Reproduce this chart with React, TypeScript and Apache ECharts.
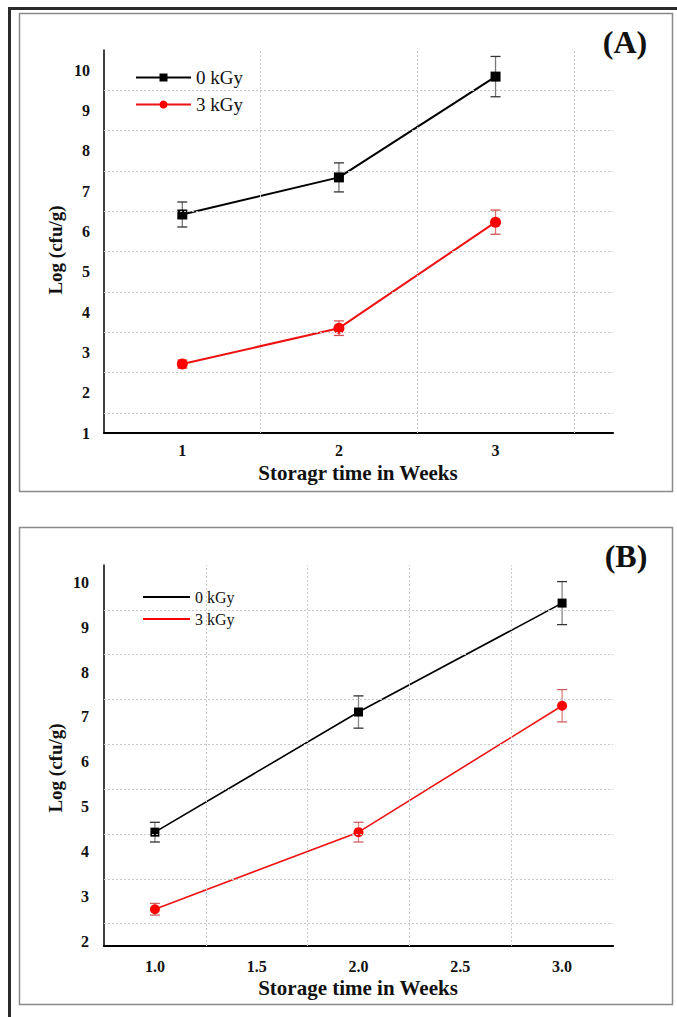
import React, { useEffect, useRef } from "react";
import * as echarts from "echarts";

const weeks = [1, 2, 3];

// Panel A
const a0kGy = [6.42, 7.34, 9.84];
const a0kGyErr = [0.31, 0.36, 0.5];
const a3kGy = [2.71, 3.6, 6.23];
const a3kGyErr = [0.1, 0.18, 0.3];

// Panel B
const b0kGy = [4.54, 7.22, 9.65];
const b0kGyErr = [0.22, 0.36, 0.48];
const b3kGy = [2.82, 4.54, 7.36];
const b3kGyErr = [0.13, 0.22, 0.36];

// Gridline positions
const aGridY = [1.5, 2.5, 3.5, 4.5, 5.5, 6.5, 7.5, 8.5, 9.5];
const aGridX = [1.5, 2.5, 3.5];
const bGridY = [2.5, 3.5, 4.5, 5.5, 6.5, 7.5, 8.5, 9.5];
const bGridX = [1.25, 1.75, 2.25, 2.75];

const SERIF = "'Times New Roman', 'Liberation Serif', serif";
const RED = "#ee1111";

function errData(v: number[], e: number[]) {
  return weeks.map((w, i) => [w, v[i] - e[i], v[i] + e[i]]);
}

function errSeries(gridIdx: number, data: number[][], color: string, capColor: string) {
  return {
    type: "custom",
    xAxisIndex: gridIdx,
    yAxisIndex: gridIdx,
    z: 1,
    silent: true,
    data,
    encode: { x: 0, y: [1, 2] },
    renderItem: (params: any, api: any) => {
      const x = api.value(0);
      const p1 = api.coord([x, api.value(1)]);
      const p2 = api.coord([x, api.value(2)]);
      const w = 5;
      return {
        type: "group",
        children: [
          { type: "line", shape: { x1: p1[0], y1: p1[1], x2: p2[0], y2: p2[1] }, style: { stroke: color, lineWidth: 1.3 } },
          { type: "line", shape: { x1: p1[0] - w, y1: p1[1], x2: p1[0] + w, y2: p1[1] }, style: { stroke: capColor, lineWidth: 1.3 } },
          { type: "line", shape: { x1: p2[0] - w, y1: p2[1], x2: p2[0] + w, y2: p2[1] }, style: { stroke: capColor, lineWidth: 1.3 } },
        ],
      };
    },
  };
}

function gridSeries(gridIdx: number, ys: number[], xs: number[]) {
  return {
    type: "line",
    xAxisIndex: gridIdx,
    yAxisIndex: gridIdx,
    z: 0,
    data: [],
    silent: true,
    markLine: {
      silent: true,
      symbol: ["none", "none"],
      label: { show: false },
      emphasis: { disabled: true },
      lineStyle: { color: "#c9c9c9", type: [2, 2], width: 1 },
      data: [...ys.map((y) => ({ yAxis: y })), ...xs.map((x) => ({ xAxis: x }))],
    },
  };
}

export default function App() {
  const ref = useRef<HTMLDivElement>(null);

  useEffect(() => {
    if (!ref.current) return;
    const chart = echarts.init(ref.current, null, { renderer: "svg" });

    const axisLabelStyle = { fontFamily: SERIF, fontWeight: "bold", fontSize: 16, color: "#111" };

    const legendBase = {
      padding: 0,
      itemGap: 0,
      selectedMode: false,
    };

    const option: any = {
      animation: false,
      backgroundColor: "#fff",
      grid: [
        { left: 104, right: 64, top: 50, bottom: 584 },
        { left: 104, right: 64, top: 565, bottom: 71 },
      ],
      xAxis: [
        {
          gridIndex: 0,
          type: "value",
          min: 0.5,
          max: 3.75,
          interval: 0.5,
          axisLine: { show: true, onZero: false, lineStyle: { color: "#000", width: 2.2 } },
          axisTick: { show: false },
          splitLine: { show: false },
          axisLabel: {
            ...axisLabelStyle,
            margin: 9,
            formatter: (v: number) => (Number.isInteger(v) ? String(v) : ""),
          },
        },
        {
          gridIndex: 1,
          type: "value",
          min: 0.75,
          max: 3.25,
          interval: 0.25,
          axisLine: { show: true, onZero: false, lineStyle: { color: "#000", width: 2.2 } },
          axisTick: { show: false },
          splitLine: { show: false },
          axisLabel: {
            ...axisLabelStyle,
            margin: 12,
            formatter: (v: number) => (Math.abs(v * 2 - Math.round(v * 2)) < 1e-9 ? v.toFixed(1) : ""),
          },
        },
      ],
      yAxis: [
        {
          gridIndex: 0,
          type: "value",
          min: 1,
          max: 10.5,
          interval: 1,
          axisLine: { show: true, onZero: false, lineStyle: { color: "#000", width: 1.5 } },
          axisTick: { show: false },
          splitLine: { show: false },
          axisLabel: {
            ...axisLabelStyle,
            margin: 14,
            formatter: (v: number) => (Number.isInteger(v) ? String(v) : ""),
          },
        },
        {
          gridIndex: 1,
          type: "value",
          min: 2,
          max: 10.5,
          interval: 1,
          axisLine: { show: true, onZero: false, lineStyle: { color: "#000", width: 1.5 } },
          axisTick: { show: false },
          splitLine: { show: false },
          axisLabel: {
            ...axisLabelStyle,
            margin: 15,
            verticalAlign: "bottom",
            lineHeight: 10,
            formatter: (v: number) => (Number.isInteger(v) ? String(v) : ""),
          },
        },
      ],
      legend: [
        {
          ...legendBase,
          data: ["0 kGy"],
          left: 135,
          top: 68,
          itemWidth: 55,
          itemHeight: 10,
          textStyle: { fontFamily: SERIF, fontSize: 19, color: "#111" },
        },
        {
          ...legendBase,
          data: ["3 kGy"],
          left: 135,
          top: 95,
          itemWidth: 55,
          itemHeight: 10,
          textStyle: { fontFamily: SERIF, fontSize: 19, color: "#111" },
        },
        {
          ...legendBase,
          data: [{ name: "0 kGy", icon: "rect" }],
          left: 143,
          top: 589,
          itemWidth: 47,
          itemHeight: 2,
          textStyle: { fontFamily: SERIF, fontSize: 16, color: "#111" },
        },
        {
          ...legendBase,
          data: [{ name: "3 kGy", icon: "rect" }],
          left: 143,
          top: 611,
          itemWidth: 47,
          itemHeight: 2,
          textStyle: { fontFamily: SERIF, fontSize: 16, color: "#111" },
        },
      ],
      series: [
        gridSeries(0, aGridY, aGridX),
        gridSeries(1, bGridY, bGridX),
        errSeries(0, errData(a0kGy, a0kGyErr), "#777", "#333"),
        errSeries(0, errData(a3kGy, a3kGyErr), "#e07070", "#d05050"),
        errSeries(1, errData(b0kGy, b0kGyErr), "#888", "#333"),
        errSeries(1, errData(b3kGy, b3kGyErr), "#e08080", "#d06060"),
        {
          name: "0 kGy",
          type: "line",
          xAxisIndex: 0,
          yAxisIndex: 0,
          z: 3,
          data: weeks.map((w, i) => [w, a0kGy[i]]),
          symbol: "rect",
          symbolSize: 10,
          lineStyle: { color: "#000", width: 2 },
          itemStyle: { color: "#000" },
        },
        {
          name: "3 kGy",
          type: "line",
          xAxisIndex: 0,
          yAxisIndex: 0,
          z: 3,
          data: weeks.map((w, i) => [w, a3kGy[i]]),
          symbol: "circle",
          symbolSize: 11,
          lineStyle: { color: RED, width: 2 },
          itemStyle: { color: "#ff0000" },
        },
        {
          name: "0 kGy",
          type: "line",
          xAxisIndex: 1,
          yAxisIndex: 1,
          z: 3,
          data: weeks.map((w, i) => [w, b0kGy[i]]),
          symbol: "rect",
          symbolSize: 9,
          lineStyle: { color: "#000", width: 1.6 },
          itemStyle: { color: "#000" },
        },
        {
          name: "3 kGy",
          type: "line",
          xAxisIndex: 1,
          yAxisIndex: 1,
          z: 3,
          data: weeks.map((w, i) => [w, b3kGy[i]]),
          symbol: "circle",
          symbolSize: 10,
          lineStyle: { color: RED, width: 1.6 },
          itemStyle: { color: "#ff0000" },
        },
      ],
      graphic: [
        {
          type: "rect",
          silent: true,
          z: -10,
          shape: { x: 9.5, y: 8.5, width: 700, height: 1100 },
          style: { fill: "none", stroke: "#2a2a2a", lineWidth: 3 },
        },
        {
          type: "rect",
          silent: true,
          z: -9,
          shape: { x: 19.5, y: 13.5, width: 653, height: 478 },
          style: { fill: "none", stroke: "#8a8a8a", lineWidth: 1.5 },
        },
        {
          type: "rect",
          silent: true,
          z: -9,
          shape: { x: 19.5, y: 527.5, width: 653, height: 477 },
          style: { fill: "none", stroke: "#8a8a8a", lineWidth: 1.5 },
        },
        {
          type: "text",
          x: 625,
          y: 42,
          style: { text: "(A)", font: `bold 32px ${SERIF}`, fill: "#111", align: "center", verticalAlign: "middle" },
        },
        {
          type: "text",
          x: 626,
          y: 556,
          style: { text: "(B)", font: `bold 32px ${SERIF}`, fill: "#111", align: "center", verticalAlign: "middle" },
        },
        {
          type: "text",
          x: 55,
          y: 250,
          rotation: Math.PI / 2,
          style: { text: "Log (cfu/g)", font: `bold 19px ${SERIF}`, fill: "#111", align: "center", verticalAlign: "middle" },
        },
        {
          type: "text",
          x: 55,
          y: 768,
          rotation: Math.PI / 2,
          style: { text: "Log (cfu/g)", font: `bold 19px ${SERIF}`, fill: "#111", align: "center", verticalAlign: "middle" },
        },
        {
          type: "text",
          x: 358,
          y: 473,
          style: { text: "Storagr time in Weeks", font: `bold 21px ${SERIF}`, fill: "#111", align: "center", verticalAlign: "middle" },
        },
        {
          type: "text",
          x: 358,
          y: 988,
          style: { text: "Storage time in Weeks", font: `bold 21px ${SERIF}`, fill: "#111", align: "center", verticalAlign: "middle" },
        },
      ],
    };

    chart.setOption(option);
    return () => chart.dispose();
  }, []);

  return (
    <div
      ref={ref}
      style={{ position: "fixed", left: 0, top: 0, width: 677, height: 1017, background: "#fff" }}
    />
  );
}
